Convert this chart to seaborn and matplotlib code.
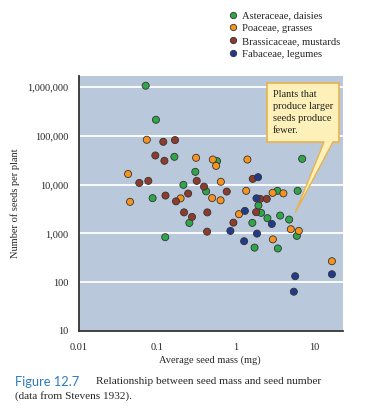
import numpy as np
import pandas as pd
import matplotlib
matplotlib.use("Agg")
import matplotlib.pyplot as plt
import seaborn as sns
from matplotlib.patches import Rectangle, Polygon

# seed mass (mg) and seeds per plant
aster_mass = [0.071, 0.096, 0.165, 0.305, 0.215, 0.419, 0.087, 0.578, 0.256, 0.126,
              7.05, 6.17, 3.41, 1.95, 2.11, 2.54, 3.69, 4.81, 1.63, 6.03, 1.74, 3.45]
aster_seeds = [1074000, 215000, 37400, 18400, 9950, 7320, 5310, 30500, 1650, 840,
               34000, 7500, 7500, 3780, 2650, 2060, 2330, 1930, 1650, 893, 513, 494]

poa_mass = [0.0733, 0.0423, 0.312, 0.510, 0.562, 1.41, 0.646, 1.36, 0.198, 0.500,
            0.641, 0.0448, 2.96, 4.06, 1.10, 5.05, 6.39, 2.98, 16.9]
poa_seeds = [83600, 16600, 35700, 32900, 24400, 32900, 11500, 7500, 5260, 5330,
             4790, 4460, 6820, 6660, 2490, 1225, 1130, 757, 270]

brass_mass = [0.119, 0.168, 0.0942, 0.123, 0.0588, 0.0767, 0.127, 0.318, 0.394, 0.247,
              0.769, 1.65, 0.173, 2.05, 2.49, 0.219, 0.277, 0.434, 1.82, 0.935, 0.431]
brass_seeds = [76000, 82400, 39800, 31000, 10900, 12000, 6000, 12000, 9140, 6600,
               7250, 13200, 4560, 5130, 5130, 2710, 2190, 2710, 2740, 1670, 1090]

faba_mass = [1.93, 1.84, 1.31, 2.89, 0.855, 1.87, 1.28, 16.9, 5.74, 5.52]
faba_seeds = [14300, 5260, 2910, 1570, 1130, 995, 695, 146, 133, 64]

families = ["Asteraceae, daisies", "Poaceae, grasses",
            "Brassicaceae, mustards", "Fabaceae, legumes"]
colors = ["#2fa64a", "#f7931e", "#8e3b2b", "#233a8c"]

df = pd.concat([
    pd.DataFrame({"mass": aster_mass, "seeds": aster_seeds, "family": families[0]}),
    pd.DataFrame({"mass": poa_mass, "seeds": poa_seeds, "family": families[1]}),
    pd.DataFrame({"mass": brass_mass, "seeds": brass_seeds, "family": families[2]}),
    pd.DataFrame({"mass": faba_mass, "seeds": faba_seeds, "family": families[3]}),
], ignore_index=True)

sns.set_style("white")
plt.rcParams["font.family"] = ["Liberation Serif", "DejaVu Serif"]

W, H = 365, 408
fig = plt.figure(figsize=(W / 100, H / 100), dpi=100)
ax = fig.add_axes([79 / W, 1 - 331 / H, 264 / W, 255 / H])
ax.set_facecolor("#b9c9db")

sns.scatterplot(data=df, x="mass", y="seeds", hue="family", hue_order=families,
                palette=colors, s=26, edgecolor="#333333", linewidth=0.6,
                ax=ax, zorder=3)

ax.set_xscale("log")
ax.set_yscale("log")
ax.set_xlim(0.01, 23.4)
ax.set_ylim(10, 1.7e6)

yt = [10, 100, 1000, 10000, 100000, 1000000]
ax.set_yticks(yt)
ax.set_yticklabels([f"{v:,}" for v in yt], fontsize=7.5)
xt = [0.01, 0.1, 1, 10]
ax.set_xticks(xt)
ax.set_xticklabels(["0.01", "0.1", "1", "10"], fontsize=7.5)
ax.minorticks_off()
ax.tick_params(axis="y", length=6, width=1.0, color="#333333", pad=1.5)
ax.tick_params(axis="x", length=5, width=1.0, color="#888888", pad=4)
ax.grid(axis="y", color="white", linewidth=1.3)
ax.set_axisbelow(True)
for s in ["top", "right"]:
    ax.spines[s].set_visible(False)
for s in ["left", "bottom"]:
    ax.spines[s].set_color("#333333")
    ax.spines[s].set_linewidth(1.3)
ax.set_xlabel("")
ax.set_ylabel("")

fig.text(210 / W, 1 - 360 / H, "Average seed mass (mg)", fontsize=7.5,
         ha="center", va="center")
fig.text(15 / W, 1 - 203 / H, "Number of seeds per plant", fontsize=7.5,
         ha="center", va="center", rotation=90)

# callout box
box = Rectangle((0.712, 0.741), 0.273, 0.232, transform=ax.transAxes,
                facecolor="#fdf0b8", edgecolor="#e9b24c", linewidth=1.2, zorder=5)
ax.add_patch(box)
tail = [(0.928, 0.745), (0.820, 0.465), (0.962, 0.745)]
ax.add_patch(Polygon(tail, closed=True, transform=ax.transAxes,
                     facecolor="#fdf0b8", edgecolor="none", zorder=6))
ax.plot([0.928, 0.820, 0.962], [0.741, 0.465, 0.741], transform=ax.transAxes,
        color="#e9b24c", linewidth=1.0, zorder=6)
ax.text(0.733, 0.945, "Plants that\nproduce larger\nseeds produce\nfewer.",
        transform=ax.transAxes, fontsize=7.5, ha="left", va="top",
        linespacing=1.42, color="#222222", zorder=7)

handles, labels = ax.get_legend_handles_labels()
ax.legend(handles, labels, loc="upper left", bbox_to_anchor=(228.8 / W, 1 - 11 / H),
          bbox_transform=fig.transFigure, frameon=False, fontsize=7.7,
          borderpad=0, borderaxespad=0, handlelength=0.8, handletextpad=0.45,
          labelspacing=0.3, markerscale=0.9)

fig.text(15 / W, 1 - 382 / H, "Figure 12.7", fontsize=9.3, color="#2b7cc0",
         family=["Lato", "DejaVu Sans"], ha="left", va="center")
fig.text(96 / W, 1 - 382 / H, "Relationship between seed mass and seed number",
         fontsize=8.1, ha="left", va="center")
fig.text(15 / W, 1 - 396 / H, "(data from Stevens 1932).",
         fontsize=8.1, ha="left", va="center")

fig.savefig("out.png", dpi=100)
